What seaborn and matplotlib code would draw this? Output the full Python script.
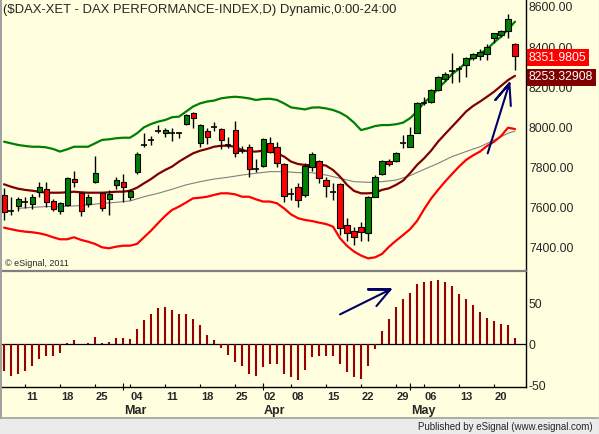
import numpy as np
import seaborn as sns
import matplotlib.pyplot as plt
import matplotlib.transforms as mtransforms
from matplotlib.lines import Line2D
from matplotlib.patches import Rectangle

sns.set_style('white')
plt.rcParams['font.family'] = ['Liberation Sans', 'DejaVu Sans']

# daily candles, Feb 5 .. May 22 (74 trading days)
open_ = [7660, 7582, 7605, 7625, 7613, 7673, 7688, 7630, 7582, 7610,
         7739, 7671, 7613, 7726, 7671, 7638, 7708, 7726, 7648, 7776,
         7909, 7934, 7978, 7967, 7967, 7967, 8012, 8070, 7920, 7978,
         8000, 7987, 7909, 7983, 7881, 7900, 7788, 7804, 7920, 7897,
         7814, 7663, 7698, 7660, 7801, 7829, 7733, 7676, 7713, 7510,
         7480, 7502, 7469, 7651, 7763, 7829, 7831, 7917, 7900, 7970,
         8120, 8125, 8183, 8236, 8279, 8287, 8307, 8340, 8352, 8362,
         8443, 8457, 8476, 8412]
high = [7693, 7648, 7651, 7651, 7663, 7726, 7726, 7638, 7627, 7751,
        7779, 7676, 7663, 7854, 7676, 7685, 7749, 7764, 7688, 7876,
        7970, 7954, 8008, 7995, 7995, 7975, 8061, 8073, 8013, 7992,
        8025, 7995, 7950, 8030, 7905, 7912, 7837, 7942, 7950, 7925,
        7817, 7693, 7718, 7817, 7876, 7834, 7751, 7721, 7718, 7544,
        7502, 7527, 7655, 7759, 7834, 7837, 7874, 7959, 8000, 8125,
        8146, 8186, 8252, 8274, 8365, 8302, 8345, 8369, 8385, 8412,
        8468, 8481, 8561, 8418]
low = [7535, 7560, 7582, 7593, 7588, 7651, 7598, 7582, 7563, 7605,
       7701, 7555, 7602, 7721, 7582, 7560, 7688, 7623, 7635, 7764,
       7900, 7909, 7967, 7950, 7929, 7942, 8007, 7995, 7900, 7914,
       7978, 7887, 7892, 7847, 7867, 7748, 7776, 7801, 7867, 7801,
       7627, 7635, 7602, 7651, 7781, 7721, 7648, 7635, 7461, 7432,
       7411, 7432, 7432, 7648, 7759, 7806, 7826, 7892, 7897, 7967,
       8108, 8116, 8179, 8229, 8219, 8224, 8246, 8332, 8332, 8332,
       8415, 8448, 8440, 8282]
close = [7573, 7582, 7641, 7625, 7651, 7701, 7627, 7588, 7618, 7743,
         7726, 7580, 7651, 7768, 7593, 7665, 7733, 7701, 7681, 7862,
         7909, 7934, 7978, 7983, 7967, 7967, 8056, 8042, 8007, 7947,
         8000, 7934, 7909, 7867, 7881, 7788, 7788, 7937, 7876, 7817,
         7655, 7663, 7635, 7806, 7864, 7746, 7706, 7676, 7497, 7469,
         7452, 7474, 7648, 7751, 7829, 7812, 7867, 7917, 7959, 8120,
         8120, 8183, 8249, 8262, 8279, 8287, 8340, 8362, 8374, 8398,
         8465, 8476, 8535, 8352]

upper = [7925, 7917, 7909, 7904, 7900, 7900, 7897, 7889, 7876, 7887,
         7900, 7900, 7900, 7917, 7934, 7937, 7942, 7945, 7945, 7967,
         7997, 8013, 8025, 8033, 8047, 8050, 8075, 8100, 8116, 8125,
         8130, 8141, 8146, 8149, 8146, 8141, 8133, 8138, 8139, 8133,
         8116, 8096, 8091, 8086, 8095, 8096, 8091, 8083, 8070, 8050,
         8020, 7983, 7992, 8003, 8008, 8008, 8012, 8020, 8042, 8075,
         8120, 8149, 8191, 8224, 8262, 8287, 8320, 8345, 8365, 8385,
         8420, 8448, 8485, 8523]
middle = [7713, 7701, 7691, 7685, 7681, 7676, 7671, 7671, 7671, 7673,
          7676, 7673, 7671, 7671, 7671, 7673, 7676, 7676, 7681, 7696,
          7718, 7739, 7764, 7784, 7801, 7826, 7847, 7867, 7880, 7889,
          7900, 7905, 7905, 7900, 7884, 7876, 7876, 7880, 7879, 7867,
          7851, 7826, 7814, 7809, 7809, 7812, 7806, 7784, 7751, 7710,
          7680, 7668, 7668, 7671, 7685, 7693, 7710, 7731, 7768, 7809,
          7842, 7880, 7925, 7963, 8000, 8037, 8075, 8103, 8125, 8149,
          8174, 8203, 8232, 8253.32908]
lower = [7497, 7489, 7482, 7477, 7474, 7469, 7461, 7449, 7439, 7439,
         7449, 7436, 7427, 7416, 7399, 7394, 7402, 7407, 7407, 7416,
         7449, 7482, 7519, 7555, 7585, 7602, 7622, 7643, 7646, 7651,
         7660, 7668, 7668, 7663, 7651, 7651, 7638, 7627, 7627, 7618,
         7593, 7563, 7544, 7535, 7530, 7522, 7515, 7502, 7444, 7406,
         7378, 7358, 7344, 7349, 7366, 7402, 7432, 7460, 7489, 7530,
         7588, 7641, 7685, 7726, 7764, 7801, 7834, 7857, 7876, 7904,
         7925, 7953, 7995, 7988]
slow_idx = [2, 4, 6, 8, 10, 12, 14, 16, 18, 20, 22, 24, 26, 28, 30, 32,
            34, 36, 38, 40, 42, 44, 46, 48, 50, 52, 54, 56, 58, 60, 62,
            64, 66, 68, 70, 72, 73]
slow_ma = [7593, 7598, 7602, 7602, 7605, 7610, 7618, 7623, 7630, 7651,
           7668, 7688, 7710, 7726, 7739, 7748, 7759, 7768, 7776, 7776,
           7771, 7771, 7759, 7743, 7726, 7723, 7726, 7734, 7756, 7787,
           7817, 7851, 7876, 7900, 7933, 7967, 7978]

osc = [-33, -38, -36, -33, -27, -18, -14, -14, -11, 2,
       5, 0.5, 1, 9, 2, 3, 8, 8, 6, 19,
       30, 37, 44, 45, 42, 37, 37, 31, 23, 11,
       5, -4, -13, -21, -26, -36, -39, -28, -24, -24,
       -36, -40, -43, -31, -16, -14, -14, -14, -24, -34,
       -40, -42, -27, -6, 16, 31, 45, 55, 62, 74,
       76, 77, 78, 76, 71, 61, 55, 48, 39, 32,
       28, 25, 23, 8]

price_ticks = [8600, 8400, 8200, 8000, 7800, 7600, 7400]
osc_ticks = [50, 0, -50]
week_ticks = [3, 8, 13, 18, 23, 28, 33, 37, 41, 46, 51, 56, 60, 65, 70]
day_pos = [4, 9, 14, 19, 24, 29, 34, 38, 42, 47, 52, 57, 61, 66, 71]
day_labels = ['11', '18', '25', '04', '11', '18', '25', '02', '08', '15',
              '22', '29', '06', '13', '20']
month_ticks = [17, 37, 58]
month_pos = [18.7, 38.6, 59.9]
month_labels = ['Mar', 'Apr', 'May']

# hand drawn arrows (bar index, value)
arrow_top = ([69.1, 72.2, 70.2, 72.2, 72.4], [7867, 8216, 8133, 8216, 8103])
arrow_bot = ([48.0, 55.2, 52.0, 55.2, 53.2], [36.4, 66.8, 66.8, 66.8, 46.5])

BG = '#FFFFE0'
W, H = 599, 434
fig = plt.figure(figsize=(W / 100, H / 100), dpi=100)
fig.patch.set_facecolor(BG)


def px_axes(x0, y0, x1, y1):
    return fig.add_axes([x0 / W, 1 - y1 / H, (x1 - x0) / W, (y1 - y0) / H])


ax1 = px_axes(2, 0, 526, 271)
ax2 = px_axes(2, 272, 526, 386.7)
for ax in (ax1, ax2):
    ax.set_facecolor(BG)
    ax.set_xlim(-0.29, 74.57)
    for s in ('left', 'top', 'bottom'):
        ax.spines[s].set_visible(False)
    ax.spines['right'].set_color('black')
    ax.spines['right'].set_linewidth(1.0)
    ax.set_yticks([])
    ax.set_xticks([])
ax2.spines['bottom'].set_visible(True)
ax2.spines['bottom'].set_color('black')
ax2.spines['bottom'].set_linewidth(1.0)
ax1.set_ylim(7281, 8631)
ax2.set_ylim(-51.6, 88.0)

idx = np.arange(len(close))
o = np.array(open_, float)
c = np.array(close, float)

# bands
sns.lineplot(x=slow_idx, y=slow_ma, ax=ax1, color='#808080', lw=0.8, estimator=None, sort=False)
sns.lineplot(x=idx, y=upper, ax=ax1, color='#008000', lw=1.6, estimator=None, sort=False)
sns.lineplot(x=idx, y=middle, ax=ax1, color='#800000', lw=1.6, estimator=None, sort=False)
sns.lineplot(x=idx, y=lower, ax=ax1, color='#FF0000', lw=1.6, estimator=None, sort=False)

# candles
ax1.vlines(idx, low, high, color='black', lw=1.0, zorder=3)
doji = np.abs(c - o) < 1
body = ~doji
cols = np.where(c >= o, '#008000', '#FF0000')
ax1.bar(idx[body], np.abs(c - o)[body], bottom=np.minimum(o, c)[body], width=0.72,
        color=cols[body], edgecolor='black', linewidth=0.8, zorder=4)
ax1.hlines(c[doji], idx[doji] - 0.4, idx[doji] + 0.4, color='black', lw=1.2, zorder=4)

ax1.plot(arrow_top[0], arrow_top[1], color='#000066', lw=1.5, zorder=5,
         solid_capstyle='round', solid_joinstyle='round')

# oscillator
ax2.axhline(0, color='black', lw=0.9, zorder=2)
ax2.vlines(idx, 0, osc, color='#990000', lw=1.5, zorder=3)
ax2.plot(arrow_bot[0], arrow_bot[1], color='#000066', lw=1.5, zorder=5,
         solid_capstyle='round', solid_joinstyle='round')

# x axis ticks and labels
ax2.set_xticks(week_ticks)
ax2.set_xticklabels([])
ax2.tick_params(axis='x', which='major', direction='in', length=2, width=0.8,
                color='black', bottom=True)
ax2.set_xticks(day_pos, minor=True)
ax2.set_xticklabels(day_labels, minor=True, fontsize=8, fontweight='bold')
ax2.tick_params(axis='x', which='minor', length=0, pad=3.5, bottom=True)
tr2 = mtransforms.blended_transform_factory(ax2.transData, ax2.transAxes)
ax2.vlines(month_ticks, -0.03, 0.03, transform=tr2, color='black', lw=0.8, clip_on=False)
for p, lab in zip(month_pos, month_labels):
    ax2.text(p, -0.212, lab, transform=tr2, ha='center', va='center',
             fontsize=9, fontweight='bold')

# right side labels (baseline placed so digits centre on the value)
tr1 = mtransforms.blended_transform_factory(ax1.transAxes, ax1.transData)
for v in price_ticks:
    ax1.text(1.0057, v - 26, f'{v:.2f}', transform=tr1, ha='left', va='baseline',
             fontsize=8.7, clip_on=False, zorder=1)
ax1.text(1.0057, close[-1] - 23, '8351.9805', transform=tr1, ha='left', va='baseline',
         fontsize=8.7, color='white', clip_on=False, zorder=6,
         bbox=dict(boxstyle='square,pad=0.2', fc='#FF0000', ec='none'))
ax1.text(1.0057, middle[-1] - 23, '8253.32908', transform=tr1, ha='left', va='baseline',
         fontsize=8.7, color='white', clip_on=False, zorder=6,
         bbox=dict(boxstyle='square,pad=0.2', fc='#800000', ec='none'))
tr2y = mtransforms.blended_transform_factory(ax2.transAxes, ax2.transData)
for v in osc_ticks:
    ax2.text(1.0057, v - 6, f'{v}', transform=tr2y, ha='left', va='baseline',
             fontsize=8.7, clip_on=False)

# frame pieces and captions
fig.add_artist(Line2D([0, 526 / W], [1 - 271 / H] * 2, color='#808080', lw=1.6))
fig.add_artist(Line2D([0.6 / W] * 2, [1 - 418 / H, 1], color='#A0A0A0', lw=1.4))
fig.add_artist(Rectangle((0, 0), 1, 16 / H, transform=fig.transFigure,
                         fc='#EBEBEB', ec='none'))
fig.add_artist(Line2D([0, 1], [16 / H] * 2, color='#A0A0A0', lw=1.2))
fig.add_artist(Line2D([1 - 0.5 / W] * 2, [0, 1], color='#D8D8D8', lw=1.0))
fig.text(3 / W, 1 - 10 / H, '($DAX-XET - DAX PERFORMANCE-INDEX,D) Dynamic,0:00-24:00',
         ha='left', va='center', fontsize=9.4)
fig.text(5 / W, 1 - 264 / H, '\u00a9 eSignal, 2011', ha='left', va='center', fontsize=6.5)
fig.text(593 / W, 1 - 427 / H, 'Published by eSignal (www.esignal.com)',
         ha='right', va='center', fontsize=7)

fig.savefig('out.png', dpi=100, facecolor=BG)
